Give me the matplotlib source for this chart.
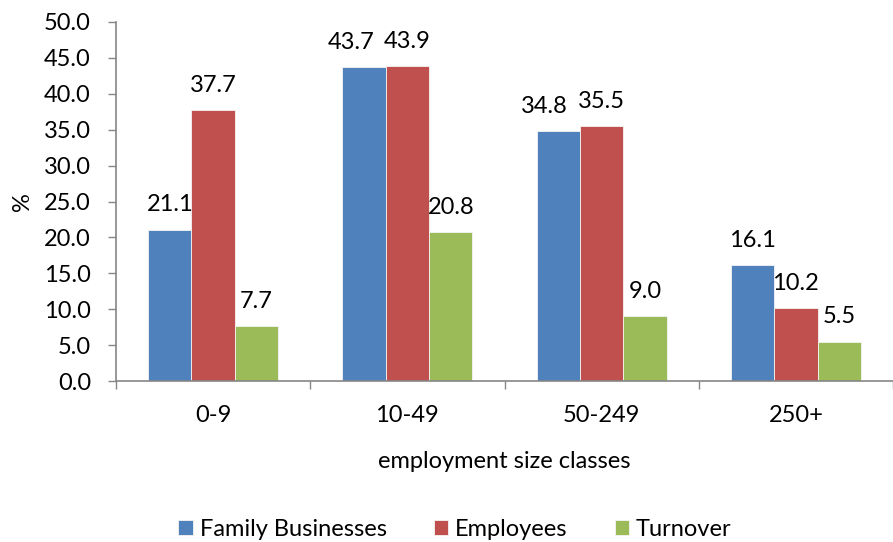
import numpy as np
import matplotlib.pyplot as plt

plt.rcParams['font.family'] = ['Lato', 'DejaVu Sans']

# Share of enterprises, employees and turnover by size class (%)
classes = ['0-9', '10-49', '50-249', '250+']
family_businesses = [21.1, 43.7, 34.8, 16.1]
employees = [37.7, 43.9, 35.5, 10.2]
turnover = [7.7, 20.8, 9.0, 5.5]

series = [
    ('Family Businesses', family_businesses, '#4F81BD'),
    ('Employees', employees, '#C0504D'),
    ('Turnover', turnover, '#9BBB59'),
]

# labels nudged sideways where neighbouring labels would collide (points)
nudge = {(0, 1): -9, (0, 2): -10}

fs = 17
fig = plt.figure(figsize=(8.93, 5.42), dpi=100)
ax = fig.add_axes([116 / 893, 161 / 542, 777 / 893, 359 / 542])

x = np.arange(len(classes))
w = 0.223
grey = '#868686'

for i, (name, vals, col) in enumerate(series):
    pos = x + (i - 1) * w
    ax.bar(pos, vals, width=w, color=col, edgecolor='#f4f4f4', linewidth=0.6,
           label=name, zorder=2)
    for j, (px, v) in enumerate(zip(pos, vals)):
        dx = nudge.get((i, j), 0)
        ax.annotate(f'{v:.1f}', (px, v), xytext=(dx, 13), textcoords='offset points',
                    ha='center', va='baseline', fontsize=fs, color='black')

ax.set_xlim(-0.5, 3.5 - 7 / 196)
ax.set_ylim(0, 50)
ax.set_yticks(np.arange(0, 50.1, 5))
ax.set_yticklabels([f'{t:.1f}' for t in np.arange(0, 50.1, 5)])

# category labels centred, tick marks on the boundaries
ax.set_xticks(x)
ax.set_xticklabels(classes)
ax.set_xticks(np.arange(-0.5, 4, 1), minor=True)
ax.tick_params(axis='x', which='major', length=0, pad=17, labelsize=fs)
ax.tick_params(axis='x', which='minor', length=6, width=1, color=grey)
ax.tick_params(axis='y', length=6, width=1, color=grey, labelsize=fs, pad=12)

for s in ['top', 'right']:
    ax.spines[s].set_visible(False)
for s in ['left', 'bottom']:
    ax.spines[s].set_color(grey)
    ax.spines[s].set_linewidth(1.2)

ax.set_xlabel('employment size classes', fontsize=fs, labelpad=18)
ax.set_ylabel('%', fontsize=fs, labelpad=8)

fig.legend(loc='lower center', bbox_to_anchor=(455 / 893, -0.035), ncol=3,
           frameon=False, fontsize=fs, handlelength=0.6, handleheight=0.6,
           handletextpad=0.3, columnspacing=2.0)

fig.savefig('out.png', dpi=100)
